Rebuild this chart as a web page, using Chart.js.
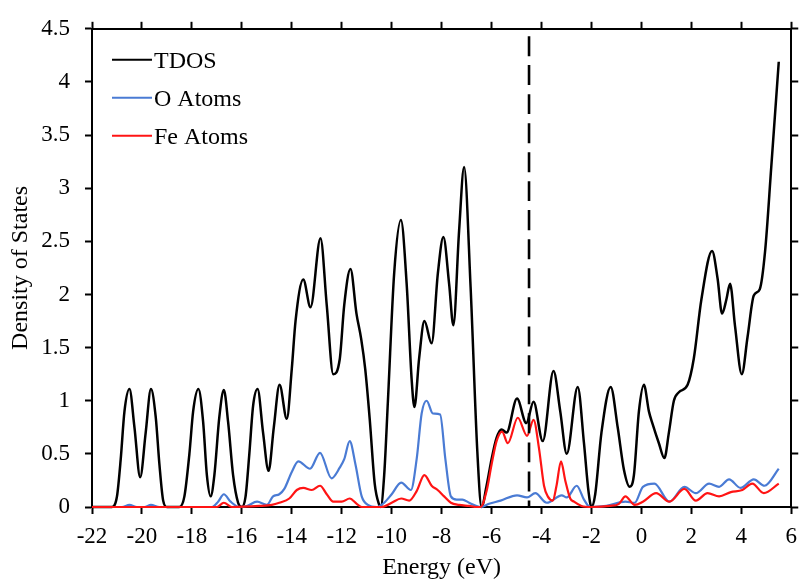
<!DOCTYPE html>
<html>
<head>
<meta charset="utf-8">
<script src="https://cdn.jsdelivr.net/npm/chart.js@4/dist/chart.umd.min.js"></script>
<style>
  html, body { margin: 0; padding: 0; background: #fff; }
  #wrap { width: 806px; height: 582px; }
</style>
</head>
<body>
<div id="wrap"><canvas id="dos" width="806" height="582"></canvas></div>
<script>
// energies (eV) and densities
var tdosE = [-22, -21.2, -21.0, -20.85, -20.7, -20.5, -20.3, -20.07, -19.85, -19.64, -19.45, -19.3, -19.15, -19.0,
  -18.5, -18.3, -18.1, -17.95, -17.74, -17.55, -17.4, -17.25, -17.1, -16.9, -16.72, -16.55, -16.35, -16.15, -16.0,
  -15.85, -15.7, -15.55, -15.37, -15.15, -14.93, -14.72, -14.49, -14.2, -14.0, -13.85, -13.54, -13.25, -12.85,
  -12.6, -12.34, -12.08, -11.9, -11.65, -11.41, -11.22, -11.06, -10.88, -10.68, -10.5, -10.44, -10.3, -10.15,
  -9.9, -9.63, -9.4, -9.2, -9.09, -8.9, -8.69, -8.4, -8.15, -7.93, -7.7, -7.53, -7.3, -7.1, -6.84, -6.57, -6.4,
  -6.2, -6.0, -5.8, -5.6, -5.4, -4.98, -4.61, -4.32, -3.95, -3.52, -3.25, -2.99, -2.55, -2.3, -2.12, -2.0,
  -1.85, -1.6, -1.23, -0.95, -0.7, -0.47, -0.3, -0.1, 0.1, 0.3, 0.45, 0.7, 0.92, 1.1, 1.3, 1.5, 1.85, 2.1, 2.4,
  2.83, 3.05, 3.23, 3.4, 3.55, 3.75, 4.02, 4.25, 4.5, 4.74, 4.95, 5.2, 5.5];
var tdosY = [0, 0, 0.1, 0.45, 0.9, 1.11, 0.75, 0.28, 0.7, 1.11, 0.85, 0.4, 0.06, 0,
  0, 0.1, 0.5, 0.9, 1.11, 0.8, 0.3, 0.1, 0.3, 0.85, 1.1, 0.8, 0.3, 0.04, 0,
  0.1, 0.5, 0.95, 1.11, 0.7, 0.34, 0.75, 1.15, 0.83, 1.3, 1.75, 2.14, 1.88, 2.53,
  1.9, 1.25, 1.39, 1.9, 2.24, 1.82, 1.58, 1.3, 0.83, 0.22, 0.02, 0, 0.3, 1.0,
  2.2, 2.7, 2.1, 1.2, 0.94, 1.4, 1.75, 1.54, 2.2, 2.54, 2.1, 1.71, 2.6, 3.2, 2.07, 0.52, 0,
  0.2, 0.45, 0.65, 0.73, 0.7, 1.02, 0.79, 0.99, 0.62, 1.28, 0.9, 0.5, 1.13, 0.6, 0.15, 0,
  0.12, 0.7, 1.13, 0.75, 0.35, 0.19, 0.3, 0.9, 1.15, 0.9, 0.78, 0.6, 0.46, 0.7, 1.0, 1.08, 1.15, 1.4, 1.95,
  2.41, 2.15, 1.82, 1.95, 2.1, 1.7, 1.25, 1.6, 1.99, 2.05, 2.4, 3.2, 4.19];

var oE = [-22, -20.8, -20.5, -20.2, -19.9, -19.64, -19.3, -17.2, -16.95, -16.72, -16.45, -16.1, -15.8, -15.39,
  -15.0, -14.75, -14.5, -14.3, -14.0, -13.74, -13.27, -12.87, -12.41, -12.08, -11.9, -11.68, -11.45, -11.2,
  -10.95, -10.6, -10.3, -10.0, -9.62, -9.23, -9.0, -8.8, -8.6, -8.35, -8.06, -7.85, -7.63, -7.4, -7.17, -6.9,
  -6.6, -6.44, -6.1, -5.64, -4.98, -4.58, -4.25, -3.79, -3.19, -2.99, -2.59, -2.3, -2.06, -1.4, -0.64, -0.27,
  0.06, 0.52, 1.12, 1.72, 2.18, 2.71, 3.11, 3.51, 3.97, 4.5, 4.93, 5.5];
var oY = [0, 0, 0.02, 0, 0, 0.02, 0, 0, 0.05, 0.12, 0.05, 0, 0.01, 0.05,
  0.02, 0.1, 0.12, 0.17, 0.33, 0.43, 0.36, 0.51, 0.27, 0.37, 0.45, 0.62, 0.4, 0.1,
  0.02, 0, 0.04, 0.12, 0.23, 0.16, 0.45, 0.88, 1.0, 0.88, 0.87, 0.45, 0.1, 0.07, 0.07, 0.04,
  0.01, 0, 0.03, 0.06, 0.11, 0.09, 0.13, 0.04, 0.11, 0.09, 0.2, 0.07, 0, 0.01, 0.05, 0.04,
  0.19, 0.22, 0.05, 0.19, 0.13, 0.22, 0.19, 0.26, 0.18, 0.26, 0.2, 0.36];

var feE = [-22, -17.0, -16.72, -16.4, -15.3, -14.8, -14.5, -14.1, -13.8, -13.54, -13.2, -12.87, -12.6, -12.34,
  -12.0, -11.68, -11.4, -11.2, -10.4, -10.0, -9.62, -9.3, -9.0, -8.69, -8.4, -8.16, -7.9, -7.63, -7.3, -6.9,
  -6.6, -6.44, -6.2, -6.0, -5.8, -5.58, -5.35, -4.95, -4.58, -4.32, -4.1, -3.9, -3.75, -3.55, -3.4, -3.22,
  -3.05, -2.85, -2.7, -2.4, -2.0, -1.27, -0.9, -0.64, -0.27, 0.06, 0.59, 1.12, 1.72, 2.18, 2.65, 3.11, 3.58,
  4.04, 4.44, 4.9, 5.5];
var feY = [0, 0, 0.04, 0, 0.01, 0.02, 0.04, 0.08, 0.16, 0.18, 0.16, 0.2, 0.12, 0.05,
  0.05, 0.08, 0.03, 0, 0, 0.04, 0.08, 0.06, 0.15, 0.3, 0.2, 0.16, 0.1, 0.04, 0.02, 0.01,
  0, 0, 0.15, 0.4, 0.62, 0.71, 0.6, 0.84, 0.67, 0.82, 0.55, 0.2, 0.1, 0.06, 0.2, 0.43,
  0.25, 0.08, 0.05, 0.01, 0, 0.01, 0.03, 0.1, 0.02, 0.05, 0.13, 0.05, 0.17, 0.06, 0.13, 0.1, 0.14,
  0.16, 0.22, 0.13, 0.22];

// Fermi level marker
var fermiE = [-4.5, -4.5];
var fermiY = [4.43, 0];

var seriesNames = ['TDOS', 'O Atoms', 'Fe Atoms'];
var seriesColors = ['#000000', '#4a7bd4', '#ff1414'];

var serif = '"Liberation Serif", "Times New Roman", serif';

function toPoints(xs, ys) {
  var pts = [];
  for (var i = 0; i < xs.length; i++) pts.push({x: xs[i], y: ys[i]});
  return pts;
}

// legend drawn inside the plot, top left
var insideLegend = {
  id: 'insideLegend',
  afterDraw: function(chart) {
    var ctx = chart.ctx;
    var left = chart.chartArea.left;
    var top = chart.chartArea.top;
    ctx.save();
    ctx.font = '24px ' + serif;
    ctx.fillStyle = '#000';
    ctx.textBaseline = 'alphabetic';
    for (var i = 0; i < seriesNames.length; i++) {
      var y = top + 31 + i * 38;
      ctx.strokeStyle = seriesColors[i];
      ctx.lineWidth = 2;
      ctx.beginPath();
      ctx.moveTo(left + 20, y);
      ctx.lineTo(left + 60, y);
      ctx.stroke();
      ctx.fillText(seriesNames[i], left + 62, y + 8);
    }
    ctx.restore();
  }
};

function tickGrid() {
  return {drawOnChartArea: false, drawTicks: true, tickLength: 7, tickWidth: 2, color: '#000', tickColor: '#000'};
}

new Chart(document.getElementById('dos').getContext('2d'), {
  type: 'line',
  data: {
    datasets: [
      {label: 'Fermi', data: toPoints(fermiE, fermiY), borderColor: '#000', borderWidth: 2.6,
        borderDash: [20, 9], tension: 0, order: 0},
      {label: seriesNames[2], data: toPoints(feE, feY), borderColor: seriesColors[2], borderWidth: 2.2, order: 1},
      {label: seriesNames[1], data: toPoints(oE, oY), borderColor: seriesColors[1], borderWidth: 2.2, order: 2},
      {label: seriesNames[0], data: toPoints(tdosE, tdosY), borderColor: seriesColors[0], borderWidth: 2.5, order: 3}
    ]
  },
  options: {
    responsive: false,
    animation: false,
    layout: {padding: 0},
    elements: {
      point: {radius: 0},
      line: {cubicInterpolationMode: 'monotone', fill: false}
    },
    datasets: {line: {clip: false}},
    plugins: {legend: {display: false}, tooltip: {enabled: false}},
    scales: {
      x: {
        type: 'linear', position: 'bottom', min: -22, max: 6,
        grid: tickGrid(),
        border: {display: true, color: '#000', width: 2},
        ticks: {stepSize: 2, color: '#000', padding: 9, maxRotation: 0, font: {family: serif, size: 23}},
        title: {display: true, text: 'Energy (eV)', color: '#000', padding: {top: 0, bottom: 0},
          font: {family: serif, size: 24}},
        afterFit: function(s) { s.height = 75; }
      },
      x2: {
        type: 'linear', position: 'top', min: -22, max: 6,
        grid: tickGrid(),
        border: {display: true, color: '#000', width: 2},
        ticks: {stepSize: 2, display: false},
        afterFit: function(s) { s.height = 21; }
      },
      y: {
        type: 'linear', position: 'left', min: 0, max: 4.5,
        grid: tickGrid(),
        border: {display: true, color: '#000', width: 2},
        ticks: {
          stepSize: 0.5, color: '#000', padding: 15, font: {family: serif, size: 23},
          callback: function(v) { return String(Math.round(v * 10) / 10); }
        },
        title: {display: true, text: 'Density of States', color: '#000', padding: {top: 6, bottom: 0},
          font: {family: serif, size: 24}},
        afterFit: function(s) { s.width = 92; }
      },
      y2: {
        type: 'linear', position: 'right', min: 0, max: 4.5,
        grid: tickGrid(),
        border: {display: true, color: '#000', width: 2},
        ticks: {stepSize: 0.5, display: false},
        afterFit: function(s) { s.width = 10; }
      }
    }
  },
  plugins: [insideLegend]
});
</script>
</body>
</html>
